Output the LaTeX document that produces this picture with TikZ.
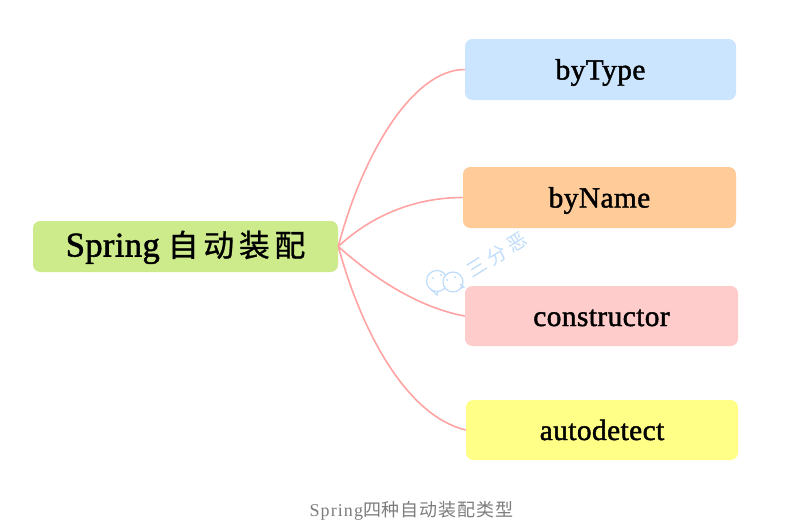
\documentclass[tikz,border=0pt]{standalone}
\usepackage{fontspec}
\setmainfont{Liberation Serif}
\newfontfamily\cjk{Noto Sans CJK SC}
\definecolor{linkc}{HTML}{FFA3A3}
\definecolor{wm}{HTML}{BFDDFB}
\definecolor{rootfill}{RGB}{205,235,139}
\definecolor{capc}{RGB}{125,125,125}
\newcommand{\boxtext}[1]{\addfontfeature{FakeBold=1.5,LetterSpace=1.5}#1}
\tikzset{
  x=0.75pt,y=-0.75pt,
  box/.style={rounded corners=5.5pt,inner sep=0pt,text=black,font=\fontsize{22}{24}\selectfont,text height=19pt,text depth=4pt},
  link/.style={draw=linkc,line width=1.2pt},
  wmline/.style={draw=wm,line width=0.9pt}
}
\begin{document}
\begin{tikzpicture}
\useasboundingbox (0,0) rectangle (809,529);
\fill[white] (0,0) rectangle (809,529);
\node[box,fill=rootfill,minimum width=228.75pt,minimum height=38.25pt,font=\fontsize{26}{28}\selectfont,text height=20pt,text depth=5pt] (root) at (185.5,246.5) {\addfontfeature{FakeBold=1.5,LetterSpace=1}Spring{\cjk\addfontfeature{FakeBold=1,LetterSpace=16}\fontsize{23}{28}\selectfont\hspace{6pt}自动装配}};
\node[box,fill={rgb,255:red,204;green,229;blue,255},minimum width=203.25pt,minimum height=45.75pt] (t1) at (600.5,69.5) {\boxtext{byType}};
\node[box,fill={rgb,255:red,255;green,204;blue,153},minimum width=204.75pt,minimum height=45.75pt] (t2) at (599.5,197.5) {\boxtext{byName}};
\node[box,fill={rgb,255:red,255;green,204;blue,204},minimum width=204.75pt,minimum height=45pt] (t3) at (601.5,316) {\boxtext{constructor}};
\node[box,fill={rgb,255:red,255;green,255;blue,136},minimum width=204pt,minimum height=45pt] (t4) at (602,430) {\boxtext{autodetect}};
\draw[link] (root.east) .. controls +(24,-92) and +(-52,0) .. (t1.west);
\draw[link] (root.east) .. controls +(30,-28) and +(-52,0) .. (t2.west);
\draw[link] (root.east) .. controls +(38,34) and +(-44,-8) .. (t3.west);
\draw[link] (root.east) .. controls +(24,88) and +(-58,-14) .. (t4.west);
% watermark
\node[rotate=32,text=wm,font=\cjk\fontsize{14.5}{16}\selectfont,inner sep=0pt] (wmtext) at (497,255) {三\hspace{3.5pt}分\hspace{3.5pt}恶};
\draw[wmline,fill=white] (437,281) circle[radius=10.5];
\draw[wmline] (431,289.5) -- (437,295) -- (438,291.5);
\draw[wmline,fill=white] (453,282) circle[radius=10];
\draw[wmline] (461,288) -- (464,287) -- (460,284);
\fill[wm] (433,278) circle[radius=1.1] (441,275) circle[radius=1.1] (447,280) circle[radius=1.1] (455,277) circle[radius=1.1];
% caption
\node[text=capc,inner sep=0pt,font=\fontsize{13.5}{15}\selectfont,text height=13pt,text depth=3pt] (cap) at (411.5,510) {\addfontfeature{LetterSpace=6}Spring{\cjk\addfontfeature{LetterSpace=5}四种自动装配类型}};
\end{tikzpicture}
\end{document}
